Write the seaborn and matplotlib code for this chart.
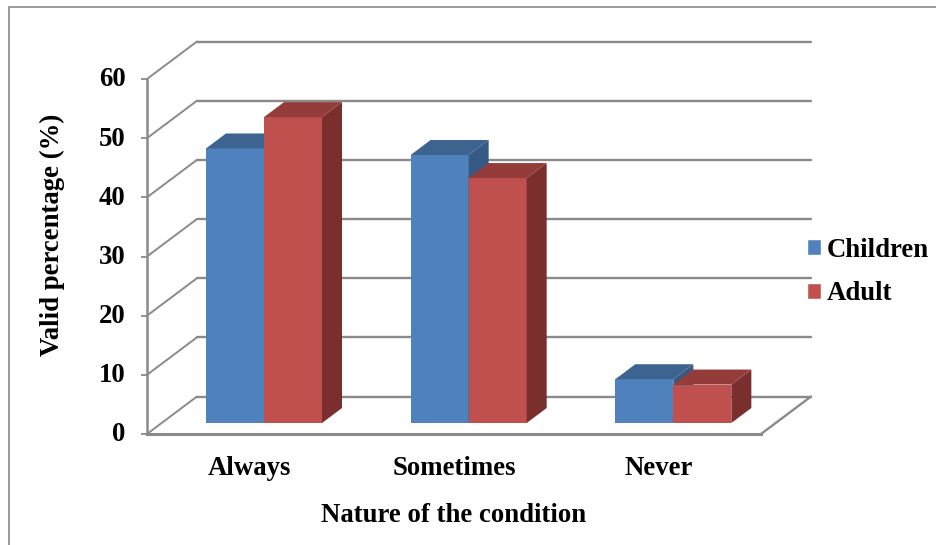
import matplotlib
matplotlib.use("Agg")
import matplotlib.pyplot as plt
import pandas as pd
import seaborn as sns
from matplotlib.lines import Line2D
from matplotlib.patches import Polygon
from matplotlib.transforms import ScaledTranslation

# =========================
# DATA
# =========================
conditions = ["Always", "Sometimes", "Never"]
children = [46.4, 45.3, 7.4]
adult = [51.7, 41.4, 6.5]
y_ticks = [0, 10, 20, 30, 40, 50, 60]

sns.set_style("white")
plt.rcParams["font.family"] = ["Liberation Serif", "DejaVu Serif"]
plt.rcParams["font.weight"] = "bold"
plt.rcParams["text.color"] = "black"
plt.rcParams["axes.labelcolor"] = "black"
plt.rcParams["xtick.labelcolor"] = "black"
plt.rcParams["ytick.labelcolor"] = "black"

GREY = "#8a8a8a"
FRONT = {"Children": "#4f81bd", "Adult": "#c0504d"}
TOP = {"Children": "#3d6391", "Adult": "#943c3a"}
SIDE = {"Children": "#375a85", "Adult": "#7a2f2e"}
FONT = 19.3

df = pd.DataFrame({
    "condition": conditions * 2,
    "pct": children + adult,
    "group": ["Children"] * 3 + ["Adult"] * 3,
})

fig = plt.figure(figsize=(9.36, 5.45), dpi=100)
ax = fig.add_axes([147 / 936, 111 / 545, 614 / 936, 355 / 545])

sns.barplot(data=df, x="condition", y="pct", hue="group", palette=FRONT,
            saturation=1, width=0.567, gap=0, ax=ax, zorder=3)
ax.set_xlim(-0.5, 2.5)
ax.set_ylim(0, 60)

# depth of the fake 3D box, in data units
depth_x = 50 / (614 / 3)
depth_y = 37.5 / (355 / 60)

# =========================
# WALLS AND FLOOR
# =========================
for v in y_ticks:
    ax.plot([-0.5 + depth_x, 2.5 + depth_x], [v + depth_y, v + depth_y],
            color=GREY, lw=1.7, clip_on=False, zorder=1)
    ax.plot([-0.5, -0.5 + depth_x], [v, v + depth_y],
            color=GREY, lw=1.4, clip_on=False, zorder=1)
ax.plot([2.5, 2.5 + depth_x], [0, depth_y], color=GREY, lw=1.7,
        clip_on=False, zorder=1)

# =========================
# BARS, shifted onto the floor with side and top faces
# =========================
groups = ["Children"] * 3 + ["Adult"] * 3
for i, (bar, group) in enumerate(zip(ax.patches, groups)):
    z = 3 + (i // 3) + (i % 3) * 3
    x0 = bar.get_x() + 0.293 * depth_x
    y0 = 0.293 * depth_y
    w = bar.get_width()
    h = bar.get_height()
    bar.set_x(x0)
    bar.set_y(y0)
    bar.set_zorder(z)
    bar.set_linewidth(0)
    dx = 0.4 * depth_x
    dy = 0.4 * depth_y
    side = [(x0 + w, y0), (x0 + w + dx, y0 + dy),
            (x0 + w + dx, y0 + h + dy), (x0 + w, y0 + h)]
    top = [(x0, y0 + h), (x0 + w, y0 + h),
           (x0 + w + dx, y0 + h + dy), (x0 + dx, y0 + h + dy)]
    ax.add_patch(Polygon(side, closed=True, fc=SIDE[group], lw=0, zorder=z, clip_on=False))
    ax.add_patch(Polygon(top, closed=True, fc=TOP[group], lw=0, zorder=z, clip_on=False))

# =========================
# AXES AND TEXT
# =========================
sns.despine(ax=ax)
ax.patch.set_alpha(0)
ax.spines["left"].set_color(GREY)
ax.spines["left"].set_linewidth(1.8)
ax.spines["bottom"].set_color(GREY)
ax.spines["bottom"].set_linewidth(2.2)
for s in ax.spines.values():
    s.set_zorder(2)

ax.set_yticks(y_ticks)
ax.tick_params(axis="y", left=True, length=4.3, width=1.3, color=GREY, pad=11, labelsize=FONT)
ax.tick_params(axis="x", bottom=False, pad=12.5, labelsize=FONT)

# y labels sit a little above their ticks in the reference
nudge = ScaledTranslation(0, 1.5 / 72, fig.dpi_scale_trans)
for label in ax.get_yticklabels():
    label.set_transform(label.get_transform() + nudge)

ax.set_xlabel("Nature of the condition", fontsize=FONT, fontweight="bold", labelpad=15.5)
ax.set_ylabel("Valid percentage (%)", fontsize=FONT, fontweight="bold")
ax.yaxis.set_label_coords(-0.134, 0.56)

ax.legend(loc="center left", bbox_to_anchor=(806.5 / 936, 273 / 545),
          bbox_transform=fig.transFigure, frameon=False, title=None,
          fontsize=FONT, handlelength=0.53, handleheight=0.53,
          handletextpad=0.23, labelspacing=0.7, borderpad=0, borderaxespad=0)

# thin frame round the chart area, only left and top show in the crop
fig.add_artist(Line2D([9 / 936, 9 / 936, 1], [0, 1 - 6.5 / 545, 1 - 6.5 / 545],
                      color=GREY, lw=1.2))

fig.savefig("out.png", dpi=100)
